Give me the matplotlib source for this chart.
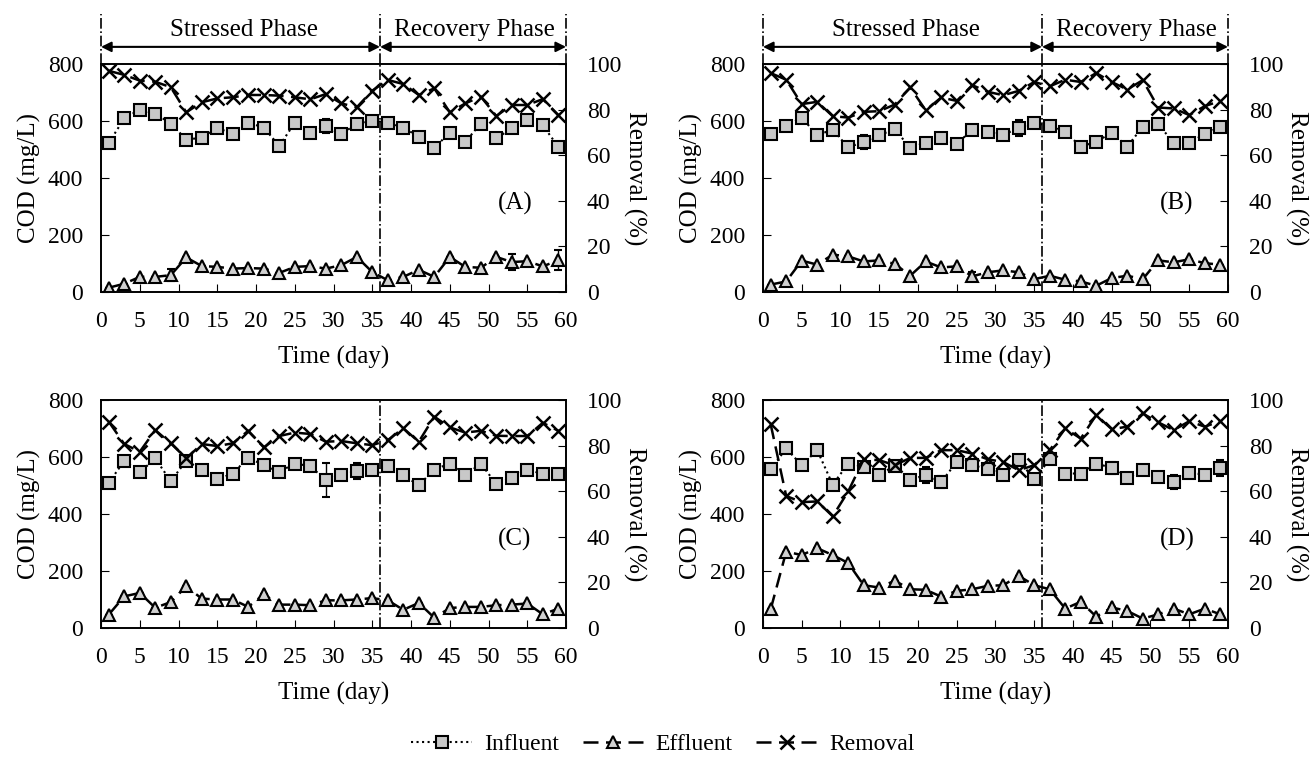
import numpy as np
import matplotlib
matplotlib.use("Agg")
import matplotlib.pyplot as plt
from matplotlib.lines import Line2D

plt.rcParams['font.family'] = ['Liberation Serif', 'DejaVu Serif']
plt.rcParams['font.size'] = 17

# --- DATI ---
days = list(range(1, 60, 2))

infl_A = [523, 609, 640, 626, 591, 535, 541, 577, 553, 594, 577, 512, 594, 559, 582,
          553, 591, 601, 594, 577, 545, 506, 559, 527, 591, 539, 574, 605, 585, 509]
effl_A = [15, 29, 53, 53, 59, 121, 91, 88, 82, 84, 82, 67, 88, 91, 82,
          94, 123, 70, 41, 53, 78, 53, 123, 88, 85, 123, 105, 108, 90, 111]
rem_A = [97, 95.2, 92.7, 92.2, 89.8, 78.8, 83.2, 84.9, 85.4, 86.4, 86.4, 86.1, 85.4, 84.5, 86.8,
         82.7, 81, 88.3, 93, 91.2, 86.4, 89.3, 78.8, 82.7, 85.7, 77.2, 82, 82, 84.6, 77.6]

infl_B = [554, 582, 612, 550, 570, 507, 527, 550, 571, 506, 524, 542, 519, 570, 562,
          550, 577, 594, 582, 562, 510, 527, 559, 510, 580, 588, 524, 524, 554, 580]
effl_B = [26, 37, 110, 96, 131, 125, 107, 111, 99, 57, 107, 86, 90, 55, 69,
          76, 69, 45, 57, 43, 37, 22, 49, 57, 45, 111, 104, 115, 101, 96]
rem_B = [96, 93.1, 82.4, 83.4, 77.1, 76.5, 79, 79.3, 82.2, 89.7, 79.7, 85.3, 83.8, 90.7, 87.8,
         86.3, 88.2, 92.1, 90.2, 93.1, 92.1, 96, 92.1, 88.8, 92.9, 80.9, 80.5, 77.6, 81.5, 83.8]

infl_C = [509, 587, 546, 595, 515, 587, 554, 522, 542, 598, 571, 548, 577, 568, 519,
          536, 551, 556, 568, 536, 501, 556, 577, 536, 577, 505, 528, 556, 540, 540]
effl_C = [47, 111, 123, 71, 91, 146, 103, 100, 100, 74, 118, 82, 82, 80, 97,
          97, 100, 105, 97, 64, 88, 36, 70, 74, 74, 80, 82, 86, 48, 68]
rem_C = [90.5, 80.7, 77.3, 86.8, 81, 74.4, 80.7, 79.8, 81, 86.5, 79.2, 84.2, 85.7, 85.1, 81.7,
         82, 81, 80.2, 82.4, 87.6, 81.7, 92.7, 88, 85.7, 86.5, 84.3, 84.2, 84.2, 90, 86.5]

infl_D = [557, 630, 571, 624, 503, 577, 565, 538, 569, 518, 538, 512, 583, 571, 559,
          538, 589, 522, 592, 542, 542, 577, 562, 526, 553, 530, 512, 545, 538, 562]
effl_D = [66, 268, 256, 280, 256, 228, 150, 142, 166, 136, 134, 110, 130, 136, 148,
          150, 183, 150, 136, 68, 92, 40, 72, 60, 33, 48, 68, 48, 68, 48]
rem_D = [89.3, 57.9, 55.2, 55.5, 49, 59.9, 74, 73.6, 71.4, 74.6, 74.6, 78, 78, 76.5, 74,
         72.8, 69.2, 71.4, 78, 87.5, 83.1, 93.4, 87.2, 88.3, 94.1, 90.2, 86.8, 90.7, 88.3, 90.7]

# deviazioni standard (solo quelle visibili)
err_infl_A = [0]*14 + [25] + [0]*15
err_effl_A = [0, 0, 0, 0, 22] + [0]*21 + [28, 0, 0, 35]
err_infl_B = [0]*6 + [25] + [0]*9 + [28] + [0]*13
err_effl_B = [0]*13 + [15] + [0]*16
err_infl_C = [0]*11 + [10, 0, 0, 60, 0, 28] + [0]*13
err_effl_C = [0]*30
err_infl_D = [0]*10 + [28, 22] + [0]*10 + [20, 0, 12, 0, 25, 0, 0, 28]
err_effl_D = [0]*30

panels = [
    ("(A)", infl_A, effl_A, rem_A, err_infl_A, err_effl_A, [0.0771, 0.6148, 0.3550, 0.3008], True),
    ("(B)", infl_B, effl_B, rem_B, err_infl_B, err_effl_B, [0.5824, 0.6148, 0.3550, 0.3008], True),
    ("(C)", infl_C, effl_C, rem_C, err_infl_C, err_effl_C, [0.0771, 0.1715, 0.3550, 0.3008], False),
    ("(D)", infl_D, effl_D, rem_D, err_infl_D, err_effl_D, [0.5824, 0.1715, 0.3550, 0.3008], False),
]

# stili serie
st_in = dict(color='k', linestyle=':', lw=1.5, marker='s', markersize=8,
             markerfacecolor='#c8c8c8', markeredgecolor='k', markeredgewidth=1.5)
st_ef = dict(color='k', linestyle=(0, (6, 3)), lw=1.8, marker='^', markersize=9,
             markerfacecolor='#d0d0d0', markeredgecolor='k', markeredgewidth=1.5)
st_rm = dict(color='k', linestyle=(0, (6, 3)), lw=1.8, marker='x', markersize=10,
             markeredgewidth=1.8)

fig = plt.figure(figsize=(13.1, 7.58), dpi=100)

for label, infl, effl, rem, e_in, e_ef, rect, phases in panels:
    ax = fig.add_axes(rect)
    ax2 = ax.twinx()

    ax.errorbar(days, infl, yerr=e_in, capsize=3, elinewidth=1, ecolor='k', **st_in)
    ax.errorbar(days, effl, yerr=e_ef, capsize=3, elinewidth=1, ecolor='k', **st_ef)
    ax2.plot(days, rem, **st_rm)

    ax.set_xlim(0, 60)
    ax.set_ylim(0, 800)
    ax2.set_ylim(0, 100)
    ax.set_xticks(np.arange(0, 61, 5))
    ax.set_yticks(np.arange(0, 801, 200))
    ax2.set_yticks(np.arange(0, 101, 20))
    ax.tick_params(direction='in', length=6, top=False, right=False)
    ax.tick_params(axis='x', pad=14)
    ax.tick_params(axis='y', pad=13)
    ax2.tick_params(direction='in', length=6, pad=15)
    ax.set_xlabel("Time (day)", labelpad=10, fontsize=18)
    ax.set_ylabel("COD (mg/L)", labelpad=5, fontsize=18)
    ax2.set_ylabel("Removal (%)", rotation=270, labelpad=17, fontsize=18)
    for a in (ax, ax2):
        for s in a.spines.values():
            s.set_linewidth(1.2)

    # linea di separazione fasi
    ax.axvline(36, color='k', linestyle='-.', lw=1.2)
    ax.text(0.89, 0.39, label, transform=ax.transAxes, ha='center', va='center', fontsize=18)

    if phases:
        tr = ax.get_xaxis_transform()
        for xv in [0, 36, 60]:
            ax.plot([xv, xv], [1.0, 1.22], transform=tr, color='k', linestyle='-.', lw=1.2,
                    clip_on=False)
        for x0, x1 in [(0, 36), (36, 60)]:
            ax.annotate('', xy=(x0, 1.075), xytext=(x1, 1.075), xycoords=tr, textcoords=tr,
                        arrowprops=dict(arrowstyle='<|-|>', color='k', lw=1.5,
                                        shrinkA=0, shrinkB=0, mutation_scale=15))
        ax.text(18.5, 1.15, "Stressed Phase", transform=tr, ha='center', va='center', fontsize=18)
        ax.text(48.2, 1.15, "Recovery Phase", transform=tr, ha='center', va='center', fontsize=18)

handles = [Line2D([], [], **st_in), Line2D([], [], **st_ef), Line2D([], [], **st_rm)]
fig.legend(handles, ['Influent', 'Effluent', 'Removal'], loc='center', bbox_to_anchor=(0.506, 0.018),
           ncol=3, frameon=False, handlelength=2.6, columnspacing=1.0, handletextpad=0.5, fontsize=17)

plt.savefig("out.png", dpi=100)
